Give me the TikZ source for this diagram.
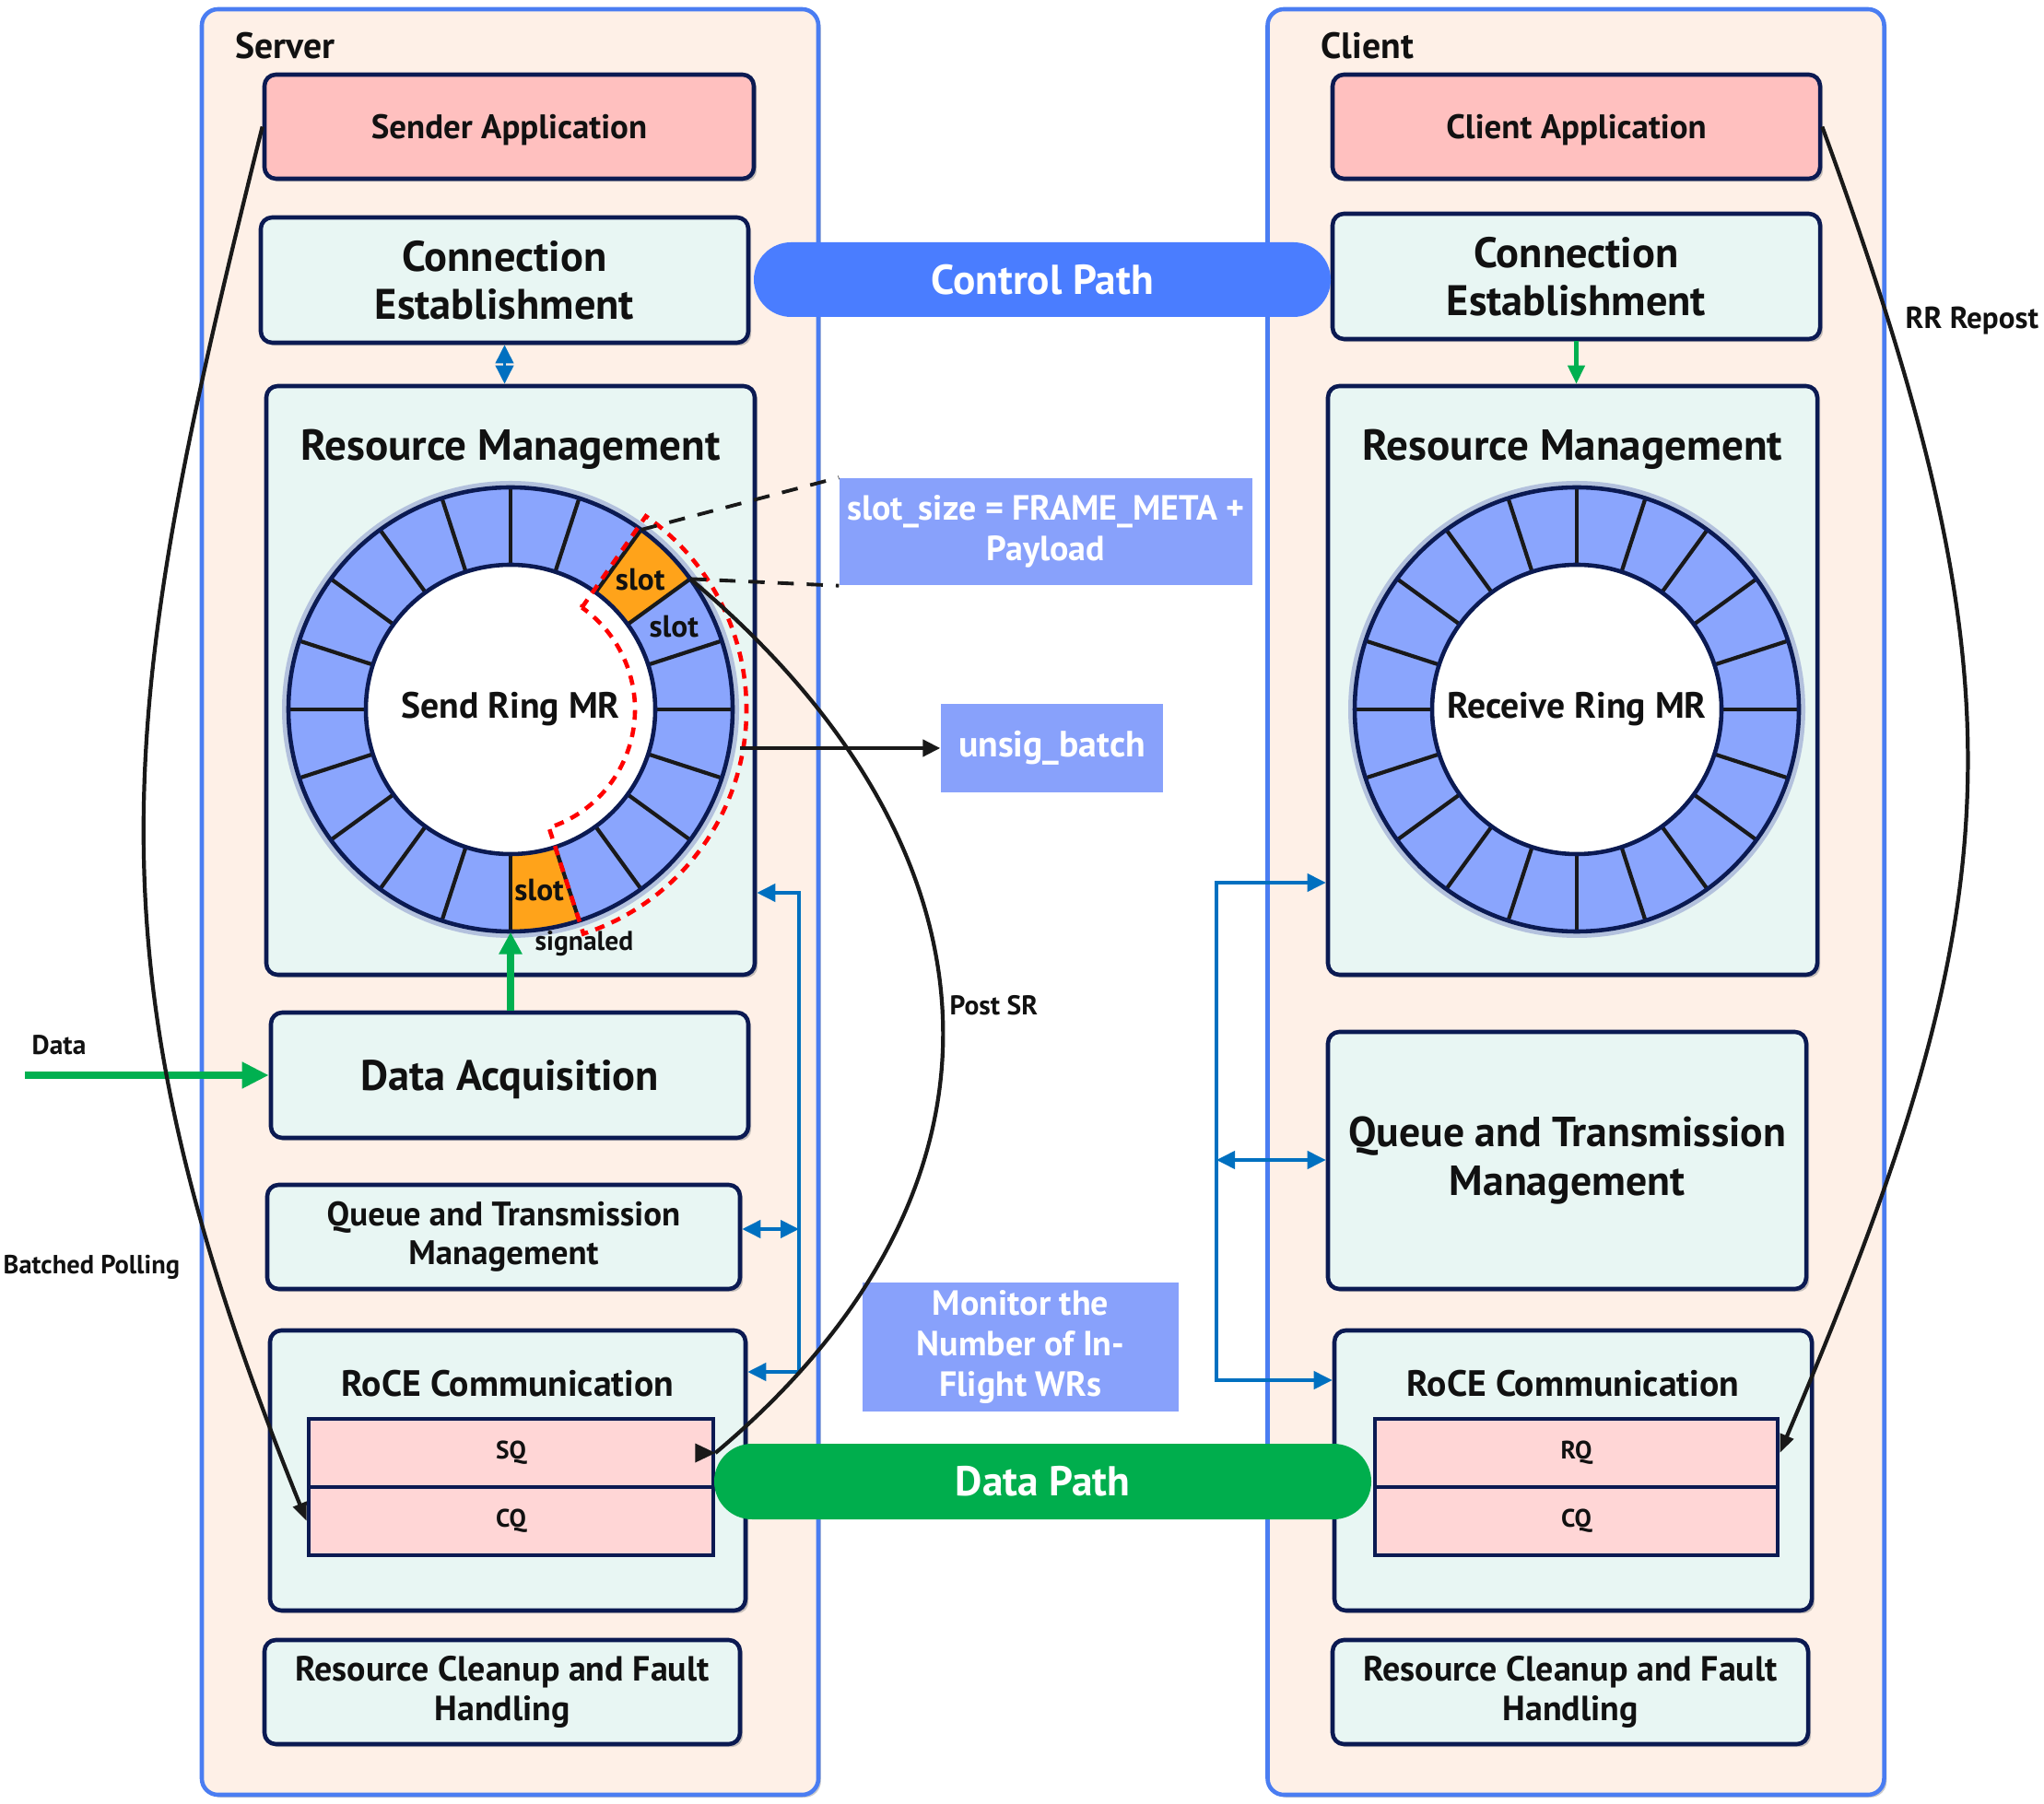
\documentclass[tikz,border=0pt]{standalone}
\usepackage{fontspec}
\setmainfont{PT Sans}
\usetikzlibrary{arrows.meta, positioning, shapes.misc, shadows}

\definecolor{panelfill}{HTML}{FEF0E7}
\definecolor{panelline}{HTML}{4A7DF2}
\definecolor{boxfill}{HTML}{E8F6F3}
\definecolor{boxline}{HTML}{0B1A52}
\definecolor{appfill}{HTML}{FFC0BF}
\definecolor{qfill}{HTML}{FFD6D6}
\definecolor{ringfill}{HTML}{8AA5FD}
\definecolor{ringglow}{HTML}{B3C1DD}
\definecolor{slotfill}{HTML}{FFA31A}
\definecolor{infofill}{HTML}{88A1FB}
\definecolor{ctrlblue}{HTML}{4A7DFF}
\definecolor{datagreen}{HTML}{00AE4D}
\definecolor{linkblue}{HTML}{0070C0}
\definecolor{flowgreen}{HTML}{00B050}
\definecolor{ink}{HTML}{111111}

\newcommand{\fsz}[2]{\fontsize{#1}{#2}\selectfont}

\begin{document}
\begin{tikzpicture}[
        >={Triangle[length=2mm, width=1.9mm]},
        panel/.style={draw=panelline, line width=1.3pt, fill=panelfill, rounded corners=5pt,
                      minimum width=6.69cm, minimum height=19.38cm, inner sep=0pt,
                      drop shadow={shadow xshift=0.8pt, shadow yshift=-0.8pt, fill=black!35, opacity=0.6}},
        box/.style={draw=boxline, line width=1.3pt, fill=boxfill, rounded corners=3.5pt,
                    align=center, inner sep=2pt, text=ink, font=\bfseries\fsz{13.2}{14.8},
                    drop shadow={shadow xshift=0.9pt, shadow yshift=-0.9pt, fill=black!45, opacity=0.5}},
        smalltext/.style={font=\bfseries\fsz{10.5}{12}},
        qbox/.style={draw=boxline, line width=1.3pt, fill=qfill, text=ink, inner sep=0pt,
                     minimum width=4.39cm, minimum height=0.74cm, font=\bfseries\fsz{7.8}{9}},
        boxtitle/.style={text=ink, inner sep=0pt, font=\bfseries\fsz{13.4}{14.8}},
        tag/.style={anchor=west, text=ink, inner sep=0pt, font=\bfseries\fsz{11.3}{12}},
        note/.style={anchor=west, text=ink, inner sep=0pt, font=\bfseries\fsz{8.4}{10}},
        info/.style={fill=infofill, text=white, align=center, inner sep=0pt, font=\bfseries\fsz{10.8}{12.4}},
        pill/.style={rounded rectangle, text=white, inner sep=0pt, minimum height=0.81cm,
                     font=\bfseries\fsz{12.9}{14}},
        ring/.style={circle, fill=ringfill, inner sep=0pt, minimum size=4.82cm},
        hole/.style={circle, draw=boxline, line width=1.3pt, fill=white, inner sep=0pt,
                     minimum size=3.14cm, text=ink, font=\bfseries\fsz{11.3}{13}},
        spoke/.style={draw=black!90, line width=1.2pt},
        slotlbl/.style={text=ink, inner sep=0pt, font=\bfseries\fsz{9.5}{10}},
        link/.style={draw=linkblue, line width=1.1pt},
        kline/.style={draw=black!90, line width=1.2pt},
        lead/.style={draw=black!90, line width=1.1pt, dash pattern=on 5pt off 4pt},
        sig/.style={draw=red, line width=1.3pt, dash pattern=on 3pt off 2.4pt},
    ]
    \useasboundingbox (0,0) rectangle (22.18,19.57);

    % panels
    \node[panel] (server) at (5.535, 9.78) {};
    \node[panel] (client) at (17.10, 9.78) {};
    \node[tag] (server-tag) at (2.55, 19.07) {Server};
    \node[tag] (client-tag) at (14.33, 19.07) {Client};

    % server modules
    \node[box, smalltext, text depth=0pt, fill=appfill, minimum width=5.31cm, minimum height=1.13cm] (sapp) at (5.525, 18.195) {Sender Application};
    \node[box, minimum width=5.29cm, minimum height=1.36cm] (scon) at (5.475, 16.53) {Connection\\Establishment};
    \node[box, minimum width=5.30cm, minimum height=6.39cm] (srm) at (5.54, 12.185) {};
    \node[boxtitle] (srm-title) at ([yshift=-0.71cm]srm.north) {Resource Management};
    \node[box, text depth=0pt, minimum width=5.18cm, minimum height=1.36cm] (sacq) at (5.53, 7.90) {Data Acquisition};
    \node[box, smalltext, minimum width=5.13cm, minimum height=1.13cm] (sqtm) at (5.465, 6.145) {Queue and Transmission\\Management};
    \node[box, minimum width=5.16cm, minimum height=3.04cm] (sroce) at (5.51, 3.61) {};
    \node[boxtitle, font=\bfseries\fsz{11.3}{12}] (sroce-title) at ([yshift=-0.60cm]sroce.north) {RoCE Communication};
    \node[qbox] (ssq) at (5.545, 3.80) {SQ};
    \node[qbox] (scq) at (5.545, 3.06) {CQ};
    \node[box, font=\bfseries\fsz{10.8}{12.2}, minimum width=5.16cm, minimum height=1.13cm] (sclean) at (5.45, 1.205) {Resource Cleanup and Fault\\Handling};

    % client modules
    \node[box, smalltext, text depth=0pt, fill=appfill, minimum width=5.29cm, minimum height=1.13cm] (capp) at (17.105, 18.195) {Client Application};
    \node[box, minimum width=5.29cm, minimum height=1.36cm] (ccon) at (17.105, 16.57) {Connection\\Establishment};
    \node[box, minimum width=5.31cm, minimum height=6.39cm] (crm) at (17.065, 12.185) {};
    \node[boxtitle] (crm-title) at ([yshift=-0.71cm]crm.north) {Resource Management};
    \node[box, font=\bfseries\fsz{13}{15.2}, minimum width=5.19cm, minimum height=2.79cm] (cqtm) at (17.005, 6.975) {Queue and Transmission\\Management};
    \node[box, minimum width=5.18cm, minimum height=3.04cm] (croce) at (17.07, 3.61) {};
    \node[boxtitle, font=\bfseries\fsz{11.3}{12}] (croce-title) at ([yshift=-0.60cm]croce.north) {RoCE Communication};
    \node[qbox, minimum width=4.37cm] (crq) at (17.105, 3.80) {RQ};
    \node[qbox, minimum width=4.37cm] (ccq) at (17.105, 3.06) {CQ};
    \node[box, font=\bfseries\fsz{10.8}{12.2}, minimum width=5.16cm, minimum height=1.13cm] (cclean) at (17.04, 1.205) {Resource Cleanup and Fault\\Handling};

    % ring buffers
    \foreach \cx/\nm in {5.54/sring, 17.11/cring} {
        \fill[ringglow] (\cx, 11.87) circle[radius=2.48];
        \node[ring] (\nm) at (\cx, 11.87) {};
    }
    \fill[slotfill] (sring.center) ++(36:1.57) -- ++(36:0.84) arc[start angle=36, end angle=54, radius=2.41]
        -- ++(234:0.84) arc[start angle=54, end angle=36, radius=1.57] -- cycle;
    \fill[slotfill] (sring.center) ++(-90:1.57) -- ++(-90:0.84) arc[start angle=-90, end angle=-72, radius=2.41]
        -- ++(108:0.84) arc[start angle=-72, end angle=-90, radius=1.57] -- cycle;
    \foreach \nm in {sring, cring} {
        \foreach \a in {0,18,...,342}
            \draw[spoke] (\nm.center) ++(\a:1.57) -- ++(\a:0.84);
        \draw[draw=boxline, line width=1.3pt] (\nm.center) circle[radius=2.41];
    }
    \node[hole] (shole) at (sring.center) {Send Ring MR};
    \node[hole] (chole) at (cring.center) {Receive Ring MR};
    \path (sring.center) ++(45:1.99) node[slotlbl] (slot-top) {slot};
    \path (sring.center) ++(27:1.99) node[slotlbl] (slot-next) {slot};
    \path (sring.center) ++(-81:1.99) node[slotlbl] (slot-low) {slot};
    \node[slotlbl, font=\bfseries\fsz{8.4}{10}] (signaled) at (6.34, 9.33) {signaled};
    \draw[sig] (sring.center) ++(55:1.35) -- ++(55:1.21) arc[start angle=55, end angle=-72, radius=2.56]
        -- ++(108:1.21) arc[start angle=-72, end angle=55, radius=1.35] -- cycle;
    \path (sring.center) ++(54:2.41) coordinate (slot-a);
    \path (sring.center) ++(36:2.41) coordinate (slot-b);

    % notes between the hosts
    \node[info, minimum width=4.48cm, minimum height=1.16cm] (slotsz) at (11.35, 13.80) {slot\_size = FRAME\_META +\\Payload};
    \node[info, font=\bfseries\fsz{11.3}{12.4}, minimum width=2.41cm, minimum height=0.96cm] (unsig) at (11.415, 11.45) {unsig\_batch};
    \node[info, minimum width=3.43cm, minimum height=1.40cm] (monitor) at (11.075, 4.95) {Monitor the\\Number of In-\\Flight WRs};
    \node[pill, fill=ctrlblue, minimum width=6.26cm] (ctrl) at (11.31, 16.535) {Control Path};
    \node[pill, fill=datagreen, minimum width=7.13cm, minimum height=0.82cm] (datap) at (11.315, 3.49) {Data Path};

    % connectors
    \draw[link, <->] (scon.south) -- (scon.south |- srm.north);
    \draw[draw=flowgreen, line width=1.2pt, -{Triangle[length=2mm, width=1.8mm]}] (ccon.south) -- (ccon.south |- crm.north);
    \draw[draw=flowgreen, line width=2pt, -{Triangle[length=2.4mm, width=2.4mm]}] (sacq.north -| sring.south) -- (sring.south);
    \coordinate (data-in) at (0.27, 7.90);
    \draw[draw=flowgreen, line width=2.3pt, -{Triangle[length=2.9mm, width=2.7mm]}] (data-in) -- (sacq.west);
    \node[note] (data-lbl) at (0.34, 8.23) {Data};

    \coordinate (sbus-t) at (8.67, 9.88);
    \coordinate (sbus-m) at (8.67, 6.23);
    \coordinate (sbus-b) at (8.67, 4.68);
    \draw[link, <->] (sbus-t -| srm.east) -- (sbus-t) -- (sbus-b) -- (sbus-b -| sroce.east);
    \draw[link, <->] (sbus-m -| sqtm.east) -- (sbus-m);
    \coordinate (cbus-t) at (13.20, 9.99);
    \coordinate (cbus-m) at (13.20, 6.98);
    \coordinate (cbus-b) at (13.20, 4.59);
    \draw[link, <->] (cbus-t -| crm.west) -- (cbus-t) -- (cbus-b) -- (cbus-b -| croce.west);
    \draw[link, <->] (cbus-m) -- (cbus-m -| cqtm.west);

    \coordinate (ring-out) at (8.03, 11.45);
    \draw[kline, -{Triangle[length=1.9mm, width=1.8mm]}] (ring-out) -- (unsig.west);
    \draw[lead] (slot-a) -- (slotsz.north west);
    \draw[lead] (slot-b) -- (slotsz.south west);

    \draw[kline] (slot-b) to[out=-40, in=40, looseness=1.22] (ssq.east);
    \fill[black!90] (ssq.east) -- ++(-0.22,0.105) -- ++(0,-0.21) -- cycle;
    \node[note] (post-lbl) at (10.30, 8.66) {Post SR};
    \draw[kline, -{Triangle[length=2mm, width=1.5mm]}] (sapp.west) to[out=256, in=112, looseness=1.11] (scq.west);
    \node[note, font=\bfseries\fsz{8.1}{10}] (poll-lbl) at (0.03, 5.82) {Batched Polling};
    \draw[kline, -{Triangle[length=2mm, width=1.5mm]}] (capp.east) to[out=-70, in=67, looseness=1.16] (crq.east);
    \node[note, font=\bfseries\fsz{9.4}{10}] (repost-lbl) at (20.67, 16.09) {RR Repost};
\end{tikzpicture}
\end{document}
